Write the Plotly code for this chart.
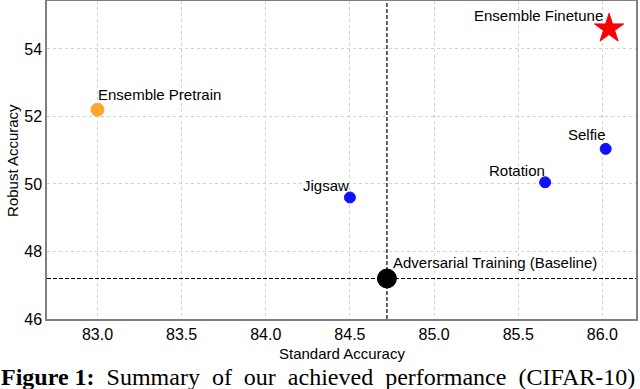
import plotly.graph_objects as go

# data
names = ["Ensemble Pretrain", "Jigsaw", "Adversarial Training (Baseline)",
         "Rotation", "Selfie", "Ensemble Finetune"]
std_acc = [83.0, 84.5, 84.72, 85.66, 86.02, 86.04]
rob_acc = [52.2, 49.6, 47.2, 50.05, 51.04, 54.6]
colors = ["#ffa62b", "#1010ff", "#000000", "#1010ff", "#1010ff", "#ff0000"]
symbols = ["circle", "circle", "circle", "circle", "circle", "star"]
sizes = [13, 11, 19, 11, 11, 22]

baseline_x = 84.72
baseline_y = 47.2

x_ticks = [83.0, 83.5, 84.0, 84.5, 85.0, 85.5, 86.0]
y_ticks = [46, 48, 50, 52, 54]

# label placement: (xanchor, xshift, yshift) with text centred vertically
label_pos = [
    ("left", -1, 15),
    ("right", 1, 12),
    ("left", 4, 16),
    ("right", 2, 12),
    ("right", 2, 14),
    ("right", -4, 13),
]

fig = go.Figure()

# baseline dashed lines
fig.add_vline(x=baseline_x, line=dict(color="black", width=1.2, dash="4px,2px"))
fig.add_hline(y=baseline_y, line=dict(color="black", width=1.2, dash="4px,2px"))

for n, x, y, c, s, sz in zip(names, std_acc, rob_acc, colors, symbols, sizes):
    fig.add_trace(
        go.Scatter(
            x=[x],
            y=[y],
            mode="markers",
            name=n,
            marker=dict(color=c, symbol=s, size=sz,
                        line=dict(color=c, width=1)),
            showlegend=False,
        )
    )

for n, x, y, p in zip(names, std_acc, rob_acc, label_pos):
    fig.add_annotation(
        x=x, y=y, text=n, showarrow=False,
        xanchor=p[0], yanchor="middle", xshift=p[1], yshift=p[2],
        font=dict(family="Liberation Sans, Arial", size=15, color="black"),
    )

label_font = dict(family="Liberation Sans, Arial", size=15, color="black")

# axis titles
fig.add_annotation(
    xref="paper", yref="paper", x=0.5, y=-0.108,
    xanchor="center", yanchor="middle", showarrow=False,
    text="Standard Accuracy", font=label_font,
)
fig.add_annotation(
    xref="paper", yref="paper", x=-0.0595, y=0.5,
    xanchor="center", yanchor="middle", showarrow=False, textangle=-90,
    text="Robust Accuracy", font=label_font,
)

# caption below the plot
fig.add_annotation(
    xref="paper", yref="paper", x=-0.079, y=-0.225,
    xanchor="left", yanchor="bottom", showarrow=False, borderpad=0,
    text="<b>Figure 1:</b>  Summary  of  our  achieved  performance  (CIFAR-10)",
    font=dict(family="Liberation Serif, Times New Roman", size=24, color="black"),
)

axis_style = dict(
    showline=True, mirror=True, linecolor="#808080", linewidth=1.5,
    showgrid=True, gridcolor="#d0d0d0", griddash="dot", gridwidth=1,
    zeroline=False, ticks="", automargin=False,
    tickfont=dict(family="Liberation Sans, Arial", size=16, color="black"),
)

fig.update_xaxes(
    range=[82.7, 86.2], tickvals=x_ticks,
    ticktext=[f"{v:.1f}" for v in x_ticks],
    **axis_style,
)
fig.update_yaxes(
    range=[46, 55.42], tickvals=y_ticks,
    **axis_style,
)

fig.update_layout(
    width=640, height=389,
    margin=dict(l=47, r=4, t=1, b=70, autoexpand=False),
    plot_bgcolor="white", paper_bgcolor="white",
)

# drop the page's default body margin so the figure fills the window
fig.write_html(
    "out.html",
    config={"displayModeBar": False},
    post_script="document.body.style.margin='0';",
)
